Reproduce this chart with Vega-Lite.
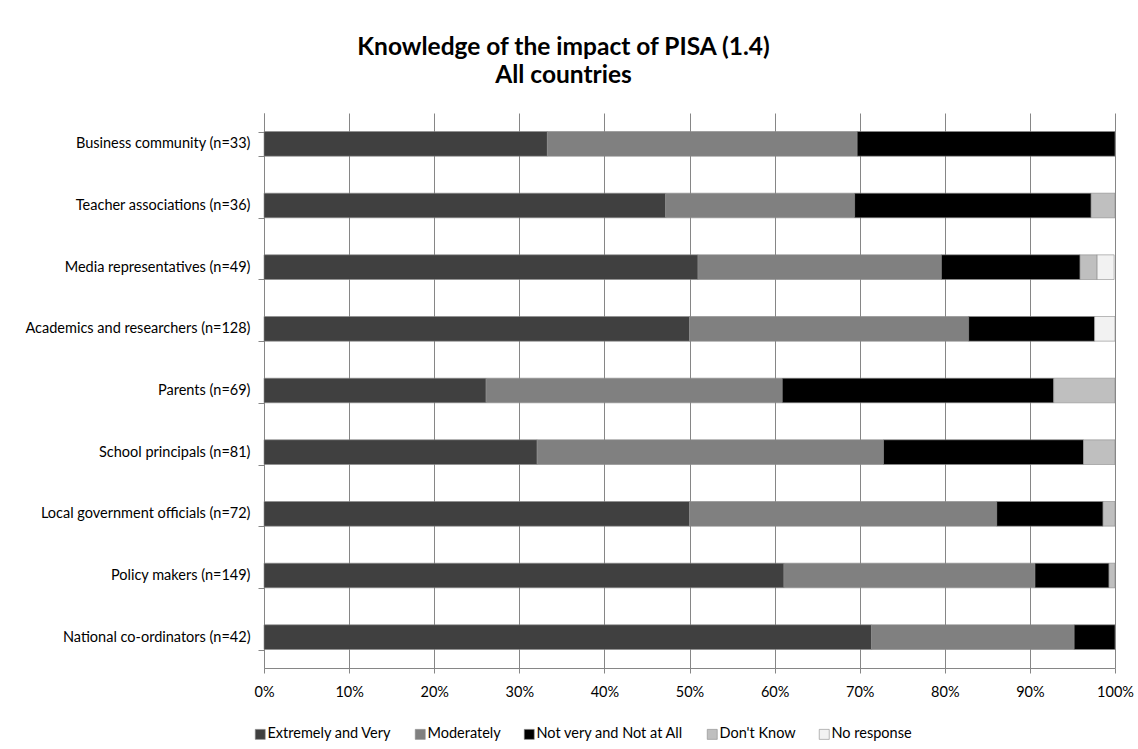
{
  "$schema": "https://vega.github.io/schema/vega-lite/v6.json",
  "autosize": "none",
  "width": 851,
  "height": 555,
  "padding": {"left": 264, "top": 113, "right": 23, "bottom": 81},
  "background": "white",
  "title": {
    "text": ["Knowledge of the impact of PISA (1.4)", "All countries"],
    "font": "Lato",
    "fontSize": 24.5,
    "fontWeight": "bold",
    "color": "#000000",
    "anchor": "middle",
    "frame": "group",
    "dx": -126,
    "offset": 17,
    "lineHeight": 28
  },
  "data": {
    "values": [
      {"group": "Business community (n=33)", "cat": "Extremely and Very", "value": 0.333, "ord": 1},
      {"group": "Business community (n=33)", "cat": "Moderately", "value": 0.364, "ord": 2},
      {"group": "Business community (n=33)", "cat": "Not very and Not at All", "value": 0.303, "ord": 3},
      {"group": "Teacher associations (n=36)", "cat": "Extremely and Very", "value": 0.472, "ord": 1},
      {"group": "Teacher associations (n=36)", "cat": "Moderately", "value": 0.222, "ord": 2},
      {"group": "Teacher associations (n=36)", "cat": "Not very and Not at All", "value": 0.278, "ord": 3},
      {"group": "Teacher associations (n=36)", "cat": "Don't Know", "value": 0.028, "ord": 4},
      {"group": "Media representatives (n=49)", "cat": "Extremely and Very", "value": 0.510, "ord": 1},
      {"group": "Media representatives (n=49)", "cat": "Moderately", "value": 0.286, "ord": 2},
      {"group": "Media representatives (n=49)", "cat": "Not very and Not at All", "value": 0.163, "ord": 3},
      {"group": "Media representatives (n=49)", "cat": "Don't Know", "value": 0.020, "ord": 4},
      {"group": "Media representatives (n=49)", "cat": "No response", "value": 0.020, "ord": 5},
      {"group": "Academics and researchers (n=128)", "cat": "Extremely and Very", "value": 0.500, "ord": 1},
      {"group": "Academics and researchers (n=128)", "cat": "Moderately", "value": 0.328, "ord": 2},
      {"group": "Academics and researchers (n=128)", "cat": "Not very and Not at All", "value": 0.148, "ord": 3},
      {"group": "Academics and researchers (n=128)", "cat": "No response", "value": 0.024, "ord": 5},
      {"group": "Parents (n=69)", "cat": "Extremely and Very", "value": 0.261, "ord": 1},
      {"group": "Parents (n=69)", "cat": "Moderately", "value": 0.348, "ord": 2},
      {"group": "Parents (n=69)", "cat": "Not very and Not at All", "value": 0.319, "ord": 3},
      {"group": "Parents (n=69)", "cat": "Don't Know", "value": 0.072, "ord": 4},
      {"group": "School principals (n=81)", "cat": "Extremely and Very", "value": 0.321, "ord": 1},
      {"group": "School principals (n=81)", "cat": "Moderately", "value": 0.407, "ord": 2},
      {"group": "School principals (n=81)", "cat": "Not very and Not at All", "value": 0.235, "ord": 3},
      {"group": "School principals (n=81)", "cat": "Don't Know", "value": 0.037, "ord": 4},
      {"group": "Local government officials (n=72)", "cat": "Extremely and Very", "value": 0.500, "ord": 1},
      {"group": "Local government officials (n=72)", "cat": "Moderately", "value": 0.361, "ord": 2},
      {"group": "Local government officials (n=72)", "cat": "Not very and Not at All", "value": 0.125, "ord": 3},
      {"group": "Local government officials (n=72)", "cat": "Don't Know", "value": 0.014, "ord": 4},
      {"group": "Policy makers (n=149)", "cat": "Extremely and Very", "value": 0.611, "ord": 1},
      {"group": "Policy makers (n=149)", "cat": "Moderately", "value": 0.295, "ord": 2},
      {"group": "Policy makers (n=149)", "cat": "Not very and Not at All", "value": 0.087, "ord": 3},
      {"group": "Policy makers (n=149)", "cat": "Don't Know", "value": 0.007, "ord": 4},
      {"group": "National co-ordinators (n=42)", "cat": "Extremely and Very", "value": 0.714, "ord": 1},
      {"group": "National co-ordinators (n=42)", "cat": "Moderately", "value": 0.238, "ord": 2},
      {"group": "National co-ordinators (n=42)", "cat": "Not very and Not at All", "value": 0.048, "ord": 3}
    ]
  },
  "mark": {"type": "bar", "stroke": "#8c8c8c", "strokeWidth": 0.6},
  "encoding": {
    "y": {
      "field": "group",
      "type": "nominal",
      "sort": [
        "Business community (n=33)",
        "Teacher associations (n=36)",
        "Media representatives (n=49)",
        "Academics and researchers (n=128)",
        "Parents (n=69)",
        "School principals (n=81)",
        "Local government officials (n=72)",
        "Policy makers (n=149)",
        "National co-ordinators (n=42)"
      ],
      "scale": {"paddingInner": 0.6, "paddingOuter": 0.3},
      "axis": {
        "title": null,
        "tickBand": "extent",
        "tickSize": 6,
        "tickColor": "#868686",
        "domainColor": "#868686",
        "labelFont": "Lato",
        "labelFontSize": 14.5,
        "labelColor": "#000000",
        "labelPadding": 8,
        "labelLimit": 0,
        "grid": false
      }
    },
    "x": {
      "field": "value",
      "type": "quantitative",
      "stack": "zero",
      "scale": {"domain": [0, 1], "nice": false},
      "axis": {
        "title": null,
        "format": ".0%",
        "values": [0, 0.1, 0.2, 0.3, 0.4, 0.5, 0.6, 0.7, 0.8, 0.9, 1],
        "grid": true,
        "gridColor": "#868686",
        "tickColor": "#868686",
        "domainColor": "#868686",
        "tickSize": 5,
        "labelFont": "Lato",
        "labelFontSize": 14.5,
        "labelColor": "#000000",
        "labelPadding": 12,
        "labelFlush": false
      }
    },
    "order": {"field": "ord", "type": "quantitative"},
    "color": {
      "field": "cat",
      "type": "nominal",
      "scale": {
        "domain": ["Extremely and Very", "Moderately", "Not very and Not at All", "Don't Know", "No response"],
        "range": ["#404040", "#808080", "#000000", "#bfbfbf", "#f2f2f2"]
      },
      "legend": {
        "title": null,
        "orient": "none",
        "direction": "horizontal",
        "legendX": -11,
        "legendY": 614,
        "symbolType": "square",
        "symbolSize": 100,
        "symbolStrokeColor": "#8c8c8c",
        "symbolStrokeWidth": 0.6,
        "labelFont": "Lato",
        "labelFontSize": 14.5,
        "labelColor": "#000000",
        "labelOffset": 0,
        "columnPadding": 21
      }
    }
  },
  "config": {
    "view": {"stroke": null}
  }
}
